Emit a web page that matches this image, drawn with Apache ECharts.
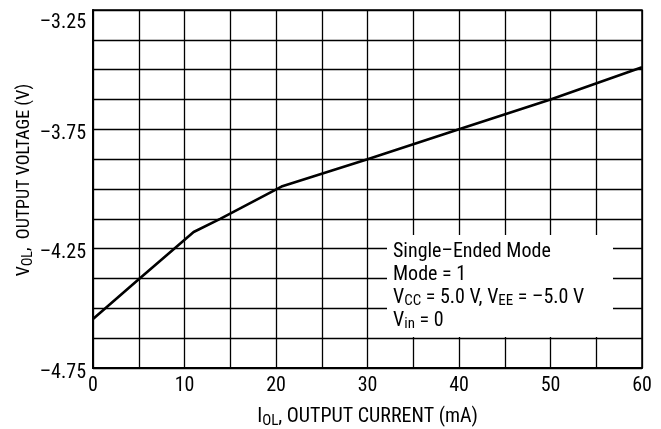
<!DOCTYPE html>
<html><head><meta charset="utf-8">
<script src="https://cdn.jsdelivr.net/npm/echarts@6/dist/echarts.min.js"></script>
<style>html,body{margin:0;padding:0;background:#fff}#c{width:661px;height:429px}</style>
</head><body><div id="c"></div>
<script>
// Data
const currentMA = [0, 5, 11, 13.9, 20.6, 30, 40, 50, 60];
const voltageV = [-4.545, -4.378, -4.18, -4.125, -3.99, -3.875, -3.75, -3.625, -3.49];
const xTickLabels = [0, 10, 20, 30, 40, 50, 60];
const yTickLabels = [-4.75, -4.25, -3.75, -3.25];
const noteLines = [
  '{n|Single–Ended Mode}',
  '{n|Mode = 1}',
  '{n|V}{s|CC}{n| = 5.0 V, V}{s|EE}{n| = –5.0 V}',
  '{n|V}{s|in}{n| = 0}'
];

const FONT = '"Roboto Condensed", "Liberation Sans", Arial, sans-serif';
const FS = 20, SFS = 15;
const chart = echarts.init(document.getElementById('c'), null, {renderer: 'canvas'});
const fmtV = v => (v < 0 ? '–' : '') + Math.abs(v).toFixed(2);

chart.setOption({
  backgroundColor: '#fff',
  animation: false,
  grid: {left: 93, right: 19, top: 10, bottom: 61, outerBoundsMode: 'none', containLabel: false,
    show: true, borderColor: '#000', borderWidth: 1.5, backgroundColor: 'transparent'},
  xAxis: {
    type: 'value', min: 0, max: 60, interval: 5,
    name: '{n|I}{s|OL}{n|, OUTPUT CURRENT (mA)}',
    nameLocation: 'middle', nameGap: 37, nameMoveOverlap: false,
    nameTextStyle: {rich: {
      n: {fontFamily: FONT, fontSize: 20, color: '#000', lineHeight: 24},
      s: {fontFamily: FONT, fontSize: 15, color: '#000', lineHeight: 16, padding: [8, 0, 0, 0]}
    }},
    axisLine: {show: true, lineStyle: {color: '#000', width: 2}},
    axisTick: {show: false},
    splitLine: {show: true, lineStyle: {color: '#000', width: 1.3}},
    axisLabel: {
      margin: 8, color: '#000', fontFamily: FONT, fontSize: FS,
      formatter: v => xTickLabels.includes(v) ? String(v) : ''
    }
  },
  yAxis: {
    type: 'value', min: -4.75, max: -3.25, interval: 0.125,
    name: '{n|V}{s|OL}{n|,  OUTPUT VOLTAGE (V)}',
    nameLocation: 'middle', nameGap: 58, nameRotate: 90, nameMoveOverlap: false,
    nameTextStyle: {
      padding: [0, 0, 0, 18],
      rich: {
        n: {fontFamily: FONT, fontSize: 18, color: '#000', lineHeight: 22},
        s: {fontFamily: FONT, fontSize: 14, color: '#000', lineHeight: 14, padding: [8, 0, 0, 0]}
      }
    },
    axisLine: {show: true, lineStyle: {color: '#000', width: 2}},
    axisTick: {show: false},
    splitLine: {show: true, lineStyle: {color: '#000', width: 1.3}},
    axisLabel: {
      margin: 7, color: '#000',
      formatter: v => {
        const hit = yTickLabels.find(t => Math.abs(t - v) < 1e-6);
        if (hit === undefined) return '';
        const key = Math.abs(hit - (-3.25)) < 1e-6 ? 't' : 'a';
        return '{' + key + '|' + fmtV(hit) + '}';
      },
      rich: {
        a: {fontFamily: FONT, fontSize: FS, color: '#000', padding: [9, 0, 0, 0]},
        t: {fontFamily: FONT, fontSize: FS, color: '#000', padding: [26, 0, 0, 0]}
      }
    }
  },
  series: [{
    type: 'line',
    data: currentMA.map((x, i) => [x, voltageV[i]]),
    showSymbol: false, symbol: 'none',
    lineStyle: {color: '#000', width: 2.6},
    z: 10
  }],
  graphic: [{
    type: 'group', z: 100,
    children: [
      {type: 'rect', shape: {x: 387, y: 235, width: 226, height: 102}, style: {fill: '#fff'}, z: 100},
      {type: 'text', x: 393, y: 240, z: 101,
        style: {
          text: noteLines.join('\n'),
          verticalAlign: 'top', align: 'left',
          rich: {
            n: {fontFamily: FONT, fontSize: FS, fill: '#000', lineHeight: 23},
            s: {fontFamily: FONT, fontSize: SFS, fill: '#000', lineHeight: 16, padding: [7, 0, 0, 0]}
          }
        }
      }
    ]
  }]
});
</script>
</body></html>
